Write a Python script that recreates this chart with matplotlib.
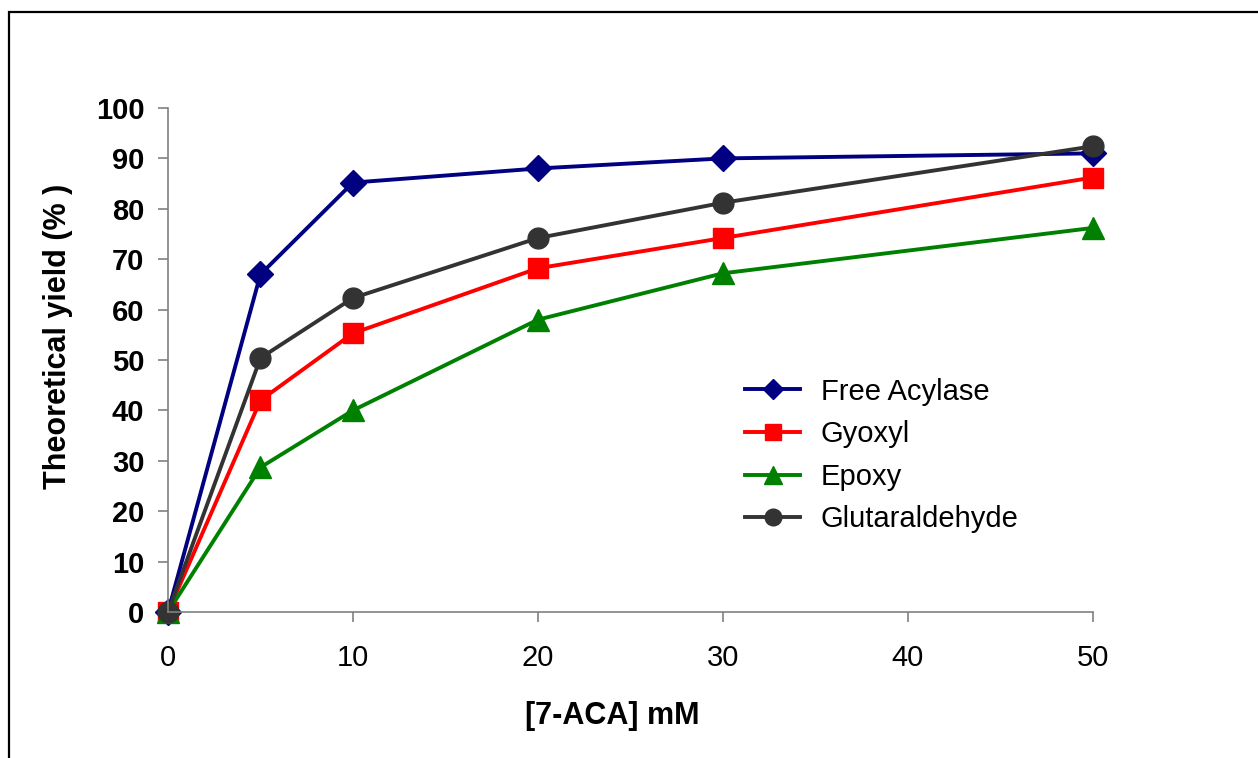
import matplotlib
matplotlib.use("Agg")
import matplotlib.pyplot as plt
from matplotlib.patches import Rectangle

plt.rcParams['font.family'] = ['Liberation Sans', 'DejaVu Sans']

conc = [0, 5, 10, 20, 30, 50]
free_acylase = [0, 67, 85.2, 88, 90, 91]
gyoxyl = [0, 42, 55.3, 68.2, 74.2, 86.2]
epoxy = [0, 28.7, 40, 58, 67.2, 76.2]
glutaraldehyde = [0, 50.4, 62.3, 74.2, 81.2, 92.4]

fig = plt.figure(figsize=(12.58, 7.58), dpi=100)
ax = fig.add_axes([168/1258, 1-612/758, (1092.7-168)/1258, (612-108)/758])

# outer frame of the original chart area
fig.patches.append(Rectangle((9/1258, -0.1), 1.2, 1.1 - 12/758, transform=fig.transFigure,
                             fill=False, edgecolor='black', linewidth=1.6))

lw = 2.8
ax.plot(conc, free_acylase, color='#000080', marker='D', markersize=13, lw=lw, label='Free Acylase', clip_on=False)
ax.plot(conc, gyoxyl, color='#FF0000', marker='s', markersize=15, lw=lw, label='Gyoxyl', clip_on=False)
ax.plot(conc, epoxy, color='#008000', marker='^', markersize=16, lw=lw, label='Epoxy', clip_on=False)
ax.plot(conc, glutaraldehyde, color='#333333', marker='o', markersize=15, lw=lw, label='Glutaraldehyde', clip_on=False)

ax.set_xlim(0, 50)
ax.set_ylim(0, 100)
ax.set_xticks([0, 10, 20, 30, 40, 50])
ax.set_yticks(range(0, 101, 10))

for s in ['top', 'right']:
    ax.spines[s].set_visible(False)
for s in ['left', 'bottom']:
    ax.spines[s].set_color('#808080')
    ax.spines[s].set_linewidth(1.2)

ax.tick_params(axis='both', direction='out', length=7, width=1.2, color='#808080', labelsize=21)
ax.tick_params(axis='y', pad=10)
ax.tick_params(axis='x', pad=16)
for t in ax.get_yticklabels():
    t.set_fontweight('bold')

ax.set_xlabel('[7-ACA] mM', fontsize=22, fontweight='bold')
ax.set_ylabel('Theoretical yield (% )', fontsize=22, fontweight='bold')
ax.xaxis.set_label_coords(0.48, -0.176)
ax.yaxis.set_label_coords(-0.103, 0.546)

ax.legend(loc='center left', bbox_to_anchor=(745/1258, 1-455.5/758), bbox_transform=fig.transFigure,
          frameon=False, fontsize=21, handlelength=1.9, handletextpad=0.7, labelspacing=0.5,
          borderpad=0, borderaxespad=0, markerscale=0.8)

fig.savefig('out.png', dpi=100)
